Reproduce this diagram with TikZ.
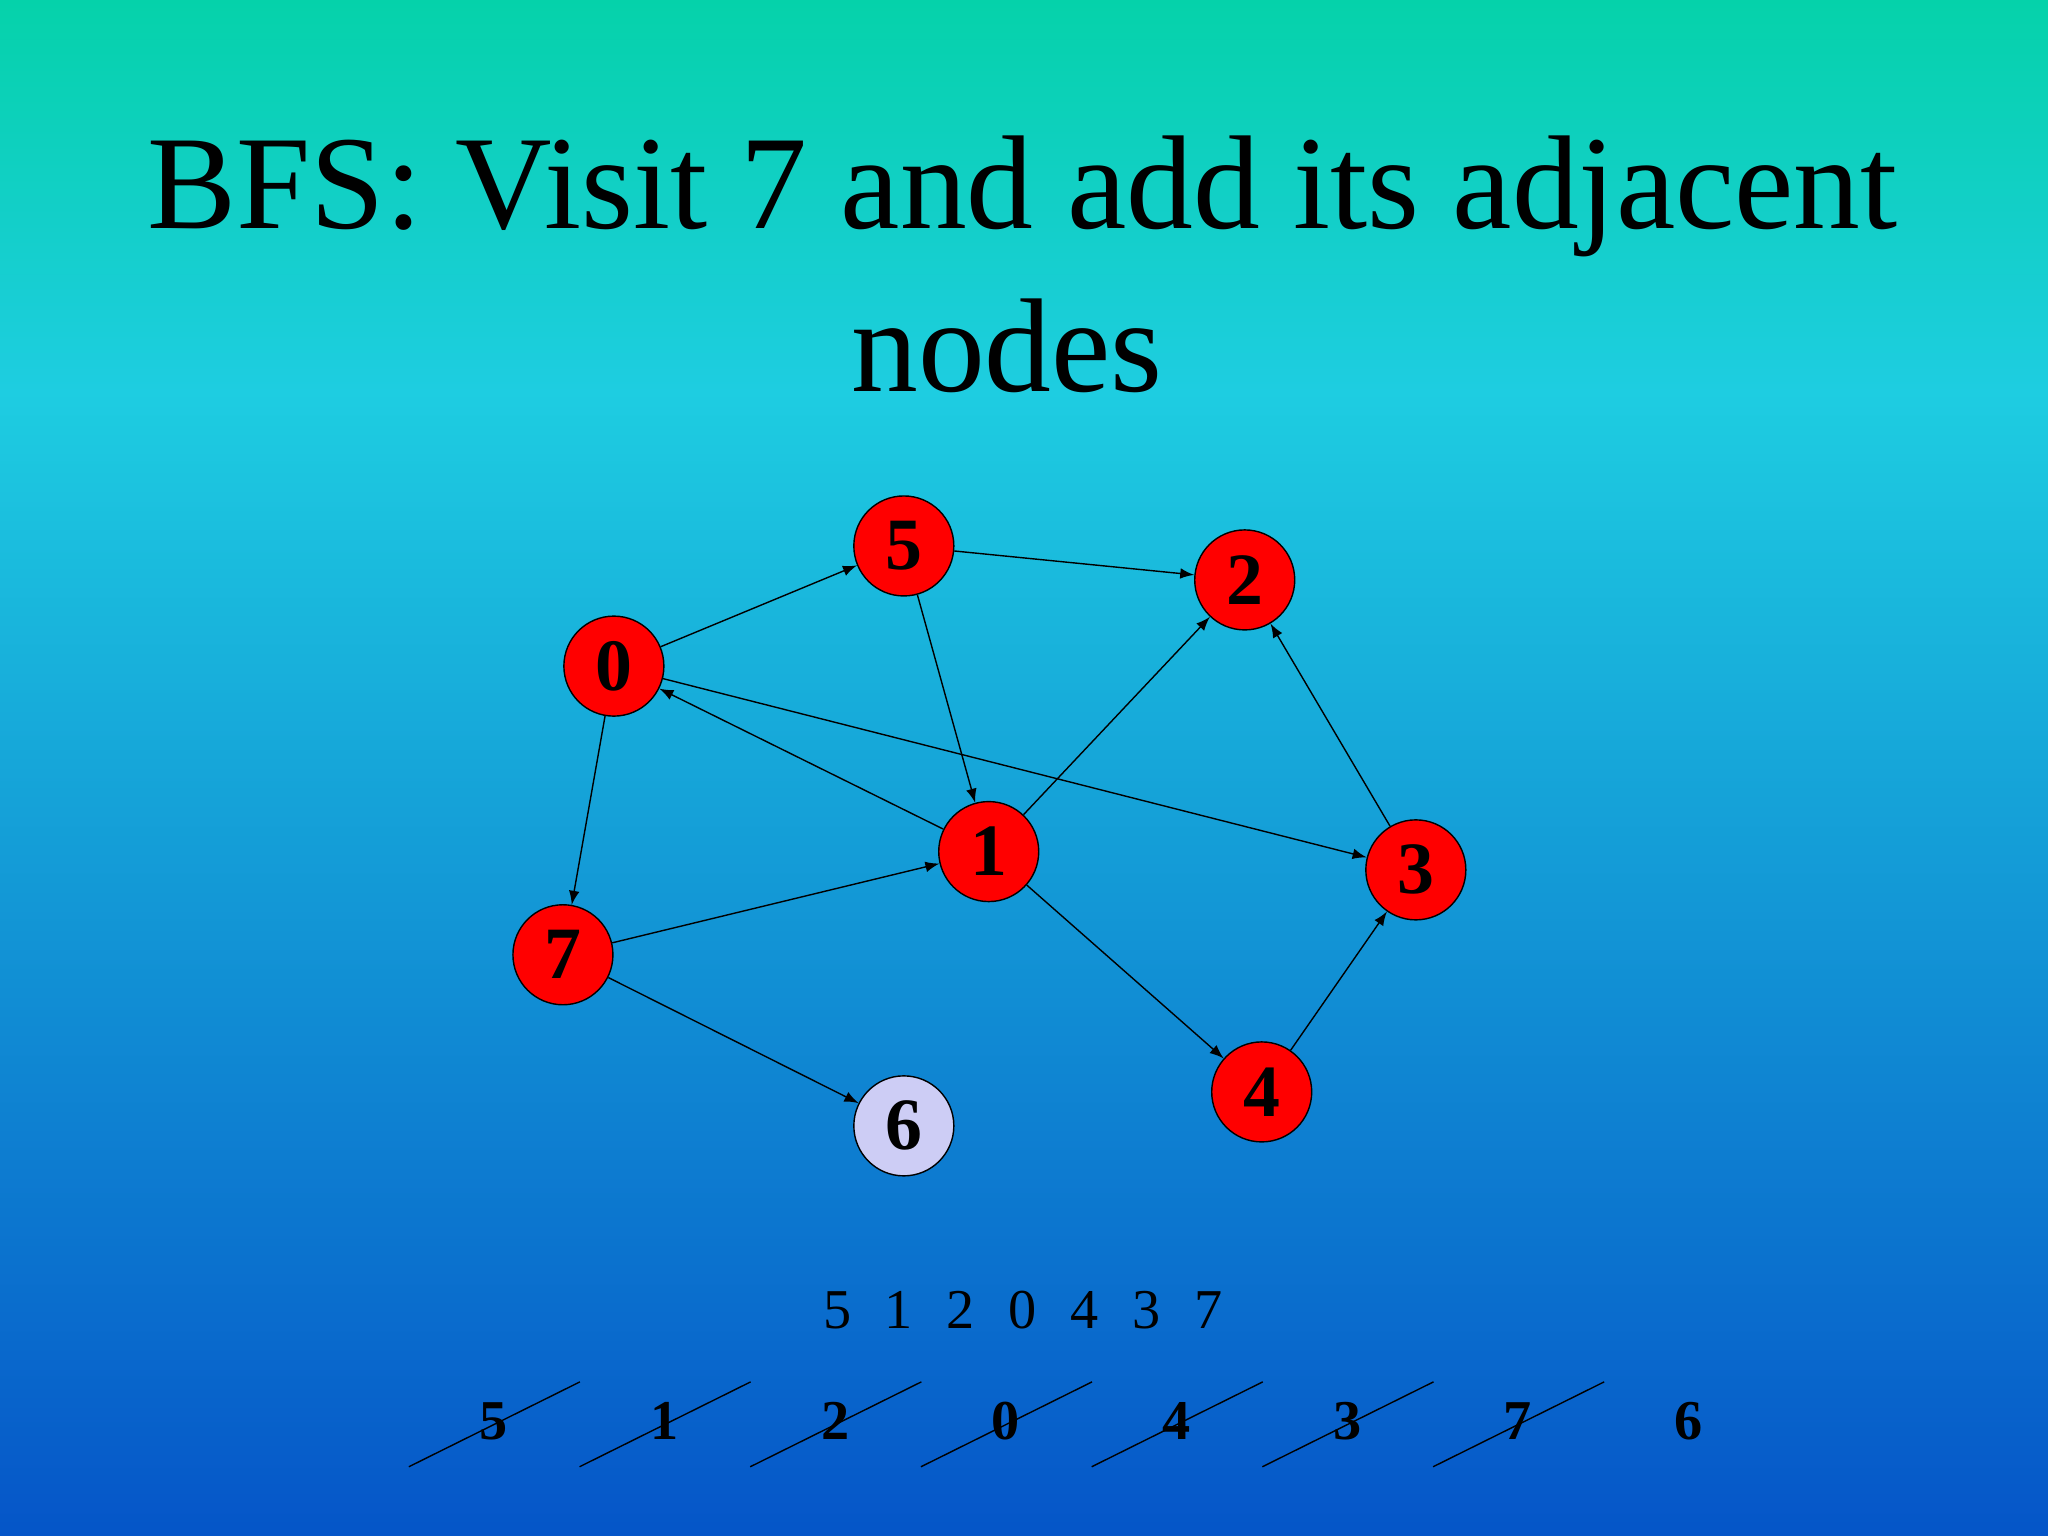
\documentclass[tikz,border=0pt]{standalone}
\usepackage{fontspec}
\setmainfont{Liberation Serif}
\usetikzlibrary{calc}
\begin{document}
\begin{tikzpicture}[x=0.013061cm,y=-0.013061cm,
  vtx/.style={circle,draw=black,fill=red,minimum size=1cm,inner sep=0pt,font=\fontsize{21}{21}\selectfont\bfseries},
  vis/.style={vtx,fill={rgb,255:red,205;green,205;blue,245}},
  edge/.style={-latex,thin}]
\definecolor{bgtop}{RGB}{5,210,170}
\definecolor{bgmid}{RGB}{30,205,225}
\definecolor{bgbot}{RGB}{5,85,200}
\useasboundingbox (0,0) rectangle (1568,1176);
\shade[top color=bgtop,bottom color=bgmid] (0,0) rectangle (1568,300);
\shade[top color=bgmid,bottom color=bgbot] (0,300) rectangle (1568,1176);
\node (t1) at (783,150) {\fontsize{38}{38}\selectfont BFS: Visit 7 and add its adjacent};
\node (t2) at (771,265) {\fontsize{38}{38}\selectfont nodes};
\node[vtx] (n5) at (692,418) {5};
\node[vtx] (n2) at (953,444) {2};
\node[vtx] (n0) at (470,510) {0};
\node[vtx] (n1) at (757,652) {1};
\node[vtx] (n3) at (1084,666) {3};
\node[vtx] (n7) at (431,731) {7};
\node[vtx] (n4) at (966,836) {4};
\node[vis] (n6) at (692,862) {6};
\draw[edge] (n0) -- (n5);
\draw[edge] (n5) -- (n2);
\draw[edge] (n5) -- (n1);
\draw[edge] (n0) -- (n3);
\draw[edge] (n1) -- (n0);
\draw[edge] (n1) -- (n2);
\draw[edge] (n3) -- (n2);
\draw[edge] (n7) -- (n1);
\draw[edge] (n0) -- (n7);
\draw[edge] (n1) -- (n4);
\draw[edge] (n4) -- (n3);
\draw[edge] (n7) -- (n6);
\node (seq) at (783,1003) {\fontsize{16}{16}\selectfont 5\hspace{0.6em}1\hspace{0.6em}2\hspace{0.6em}0\hspace{0.6em}4\hspace{0.6em}3\hspace{0.6em}7};
\foreach \v [count=\i from 0] in {5,1,2,0,4,3,7}{
  \node[font=\fontsize{16}{16}\selectfont\bfseries] (q\i) at (378+130.7*\i,1088) {\v};
  \draw[thin] ($(q\i)+(-65,35)$) -- ($(q\i)+(66,-30)$);
}
\node[font=\fontsize{16}{16}\selectfont\bfseries] (q7) at (1293,1088) {6};
\end{tikzpicture}
\end{document}
